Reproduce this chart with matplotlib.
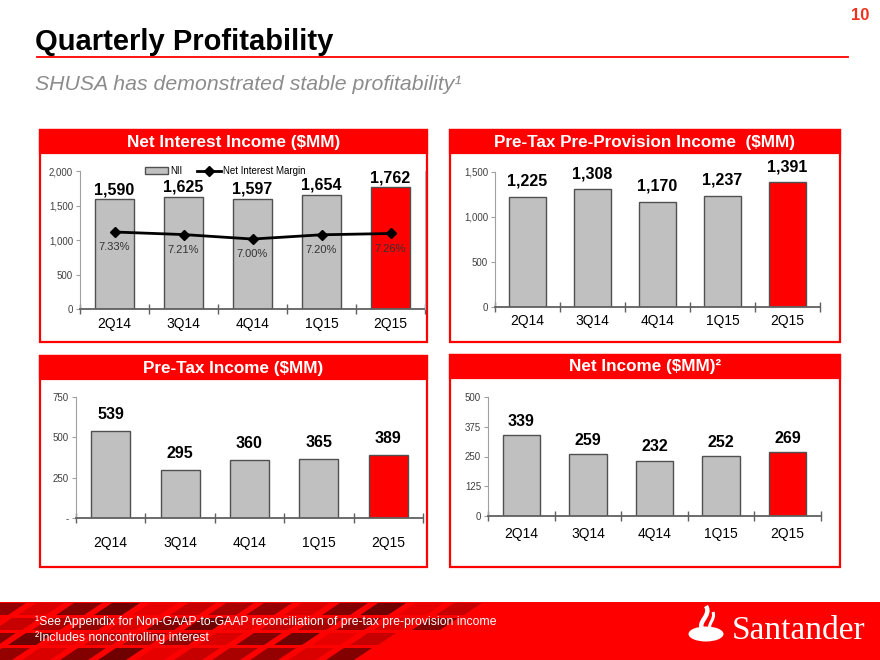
import numpy as np
import matplotlib
matplotlib.use('Agg')
import matplotlib.pyplot as plt
from matplotlib.patches import Rectangle, Polygon, Ellipse, PathPatch
from matplotlib.path import Path

plt.rcParams['font.family'] = ['Liberation Sans', 'DejaVu Sans']

W, H = 880, 660
RED = '#ff0000'
GRAY = '#c0c0c0'
EDGE = '#505050'

quarters = ['2Q14', '3Q14', '4Q14', '1Q15', '2Q15']
nii = [1590, 1625, 1597, 1654, 1762]
nim = [7.33, 7.21, 7.00, 7.20, 7.26]
ptpp = [1225, 1308, 1170, 1237, 1391]
pti = [539, 295, 360, 365, 389]
net_income = [339, 259, 232, 252, 269]


def px(x0, y0, x1, y1):
    # pixel box (top-left origin) -> figure fraction rect
    return [x0 / W, 1 - y1 / H, (x1 - x0) / W, (y1 - y0) / H]


fig = plt.figure(figsize=(8.8, 6.6), dpi=100)
bg = fig.add_axes([0, 0, 1, 1])
bg.set_xlim(0, W)
bg.set_ylim(H, 0)
bg.axis('off')

# title block
bg.text(35, 50, 'Quarterly Profitability', fontsize=21, fontweight='bold',
        ha='left', va='baseline', color='black')
bg.plot([37, 848], [57, 57], color=RED, lw=1.3)
bg.text(860, 15, '10', fontsize=12, fontweight='bold', color='#f0301c',
        ha='center', va='center')
bg.text(35, 85, 'SHUSA has demonstrated stable profitability¹', fontsize=15.3,
        style='italic', color='#8c8c8c', ha='left', va='center')


def panel_box(x0, y0, x1, y1, title):
    bg.add_patch(Rectangle((x0, y0), x1 - x0, y1 - y0, facecolor='white',
                           edgecolor=RED, lw=1.6))
    bg.add_patch(Rectangle((x0, y0), x1 - x0, 23, facecolor=RED, edgecolor=RED, lw=1.6))
    bg.text((x0 + x1) / 2, y0 + 12, title, color='white', fontsize=12.3,
            fontweight='bold', ha='center', va='center')


panel_box(40, 130, 427, 342, 'Net Interest Income ($MM)')
panel_box(450, 130, 840, 342, 'Pre-Tax Pre-Provision Income  ($MM)')
panel_box(40, 356, 427, 567, 'Pre-Tax Income ($MM)')
panel_box(450, 355, 840, 567, 'Net Income ($MM)²')

x = np.arange(len(quarters))


def bar_chart(rect, values, ymax, yticks, ylabels, off, pad):
    ax = fig.add_axes(px(*rect))
    ax.patch.set_alpha(0)
    colors = [GRAY] * (len(values) - 1) + [RED]
    bars = ax.bar(x, values, width=0.56, color=colors, edgecolor=EDGE, lw=1.0, zorder=2)
    ax.set_xlim(-0.5, len(values) - 0.5)
    ax.set_ylim(0, ymax)
    for s in ['top', 'right']:
        ax.spines[s].set_visible(False)
    ax.spines['left'].set_color('#a0a0a0')
    ax.spines['left'].set_linewidth(0.8)
    ax.spines['bottom'].set_color('#606060')
    ax.spines['bottom'].set_linewidth(1.3)
    ax.spines['bottom'].set_zorder(3)
    ax.set_xticks(x)
    ax.set_xticklabels(quarters, fontsize=10)
    ax.tick_params(axis='x', which='major', length=0, pad=pad)
    ax.set_xticks(np.arange(-0.5, len(values), 1), minor=True)
    ax.tick_params(axis='x', which='minor', length=7, width=1.0,
                   direction='inout', color='#606060')
    ax.set_yticks(yticks)
    ax.set_yticklabels(ylabels, fontsize=7, color='#404040')
    ax.tick_params(axis='y', length=3, width=0.8, color='#a0a0a0', pad=2)
    for i, v in enumerate(values):
        ax.annotate(f'{v:,}', (i, v), xytext=(0, off), textcoords='offset points',
                    ha='center', va='center', fontsize=11.5, fontweight='bold')
    return ax, bars


# Net interest income with margin line
ax1, b1 = bar_chart((80, 171, 425, 309), nii, 2000, [0, 500, 1000, 1500, 2000],
                    ['0', '500', '1,000', '1,500', '2,000'], 7, 6)
ax1b = ax1.twinx()
line, = ax1b.plot(x, nim, color='black', lw=2, marker='D', ms=5.5, zorder=4)
ax1b.set_ylim(3.72, 10.19)
ax1b.set_yticks([])
for s in ['top', 'left', 'bottom']:
    ax1b.spines[s].set_visible(False)
ax1b.spines['right'].set_color('#b0b0b0')
ax1b.spines['right'].set_linewidth(0.8)
for i, v in enumerate(nim):
    ax1b.annotate(f'{v:.2f}%', (i, v), xytext=(0, -11), textcoords='offset points',
                  ha='center', va='center', fontsize=8, color='#333333')
ax1b.legend([b1[0], line], ['NII', 'Net Interest Margin'], loc='center',
            bbox_to_anchor=(0.42, 1.0), ncol=2, frameon=False, fontsize=7,
            handlelength=2.4, columnspacing=1.6, handletextpad=0.2,
            borderpad=0)
ax1b.get_legend().get_patches()[0].set_facecolor(GRAY)

bar_chart((495, 172, 820, 307), ptpp, 1500, [0, 500, 1000, 1500],
          ['0', '500', '1,000', '1,500'], 11, 5)
bar_chart((76, 397, 423, 518), pti, 750, [0, 250, 500, 750],
          ['-', '250', '500', '750'], 12, 13)
bar_chart((488, 397, 821, 516), net_income, 500, [0, 125, 250, 375, 500],
          ['0', '125', '250', '375', '500'], 10, 8)

# footer band with darker slanted tiles on the left
foot = Rectangle((0, 602), W, 58, facecolor=RED, edgecolor='none')
bg.add_patch(foot)
shades = ['#8a0000', '#c00000', '#5e0000', '#d80000', '#a00000', '#e40000', '#750000']
for r in range(4):
    for c in range(13):
        k = (r * 5 + c * 3) % len(shades)
        if c * 38 + r * 20 > 480:
            continue
        y0 = 602 + r * 15
        x0 = c * 38 - r * 24 - 20
        tile = Polygon([(x0, y0 + 13), (x0 + 28, y0 + 13), (x0 + 46, y0 + 1), (x0 + 18, y0 + 1)],
                       closed=True, facecolor=shades[k], edgecolor='none', alpha=0.9)
        bg.add_patch(tile)
        tile.set_clip_path(foot)

bg.text(35, 622, '¹See Appendix for Non-GAAP-to-GAAP reconciliation of pre-tax pre-provision income',
        color='white', fontsize=8.8, ha='left', va='center')
bg.text(35, 638, '²Includes noncontrolling interest', color='white', fontsize=8.8,
        ha='left', va='center')

# Santander logo
bg.add_patch(Ellipse((706, 634), 35, 15, facecolor='white', edgecolor='none'))
flame = Path([(703, 630), (696, 622), (712, 616), (706, 606)],
             [Path.MOVETO, Path.CURVE4, Path.CURVE4, Path.CURVE4])
bg.add_patch(PathPatch(flame, facecolor='none', edgecolor='white', lw=3.2))
flame2 = Path([(711, 631), (706, 624), (716, 620), (713, 612)],
              [Path.MOVETO, Path.CURVE4, Path.CURVE4, Path.CURVE4])
bg.add_patch(PathPatch(flame2, facecolor='none', edgecolor='white', lw=2.2))
bg.text(732, 631, 'Santander', color='white', fontsize=24,
        family=['Liberation Serif', 'DejaVu Serif'], ha='left', va='center')

fig.savefig('out.png', dpi=100)
